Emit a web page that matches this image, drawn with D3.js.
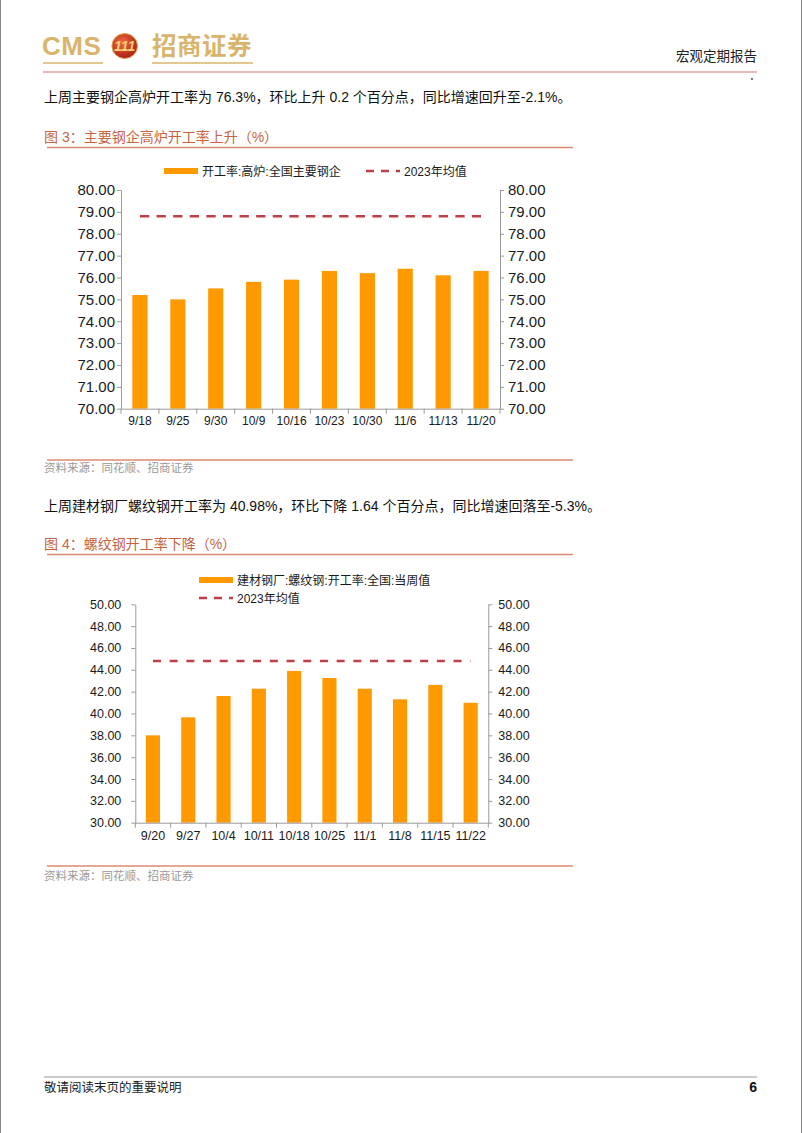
<!DOCTYPE html>
<html><head><meta charset="utf-8">
<script src="https://cdn.jsdelivr.net/npm/d3@7/dist/d3.min.js"></script>
<style>html,body{margin:0;padding:0;background:#fff;} svg{display:block;}</style>
</head><body><svg id="page" width="802" height="1133"></svg>
<script>
// ---------- data ----------
const dates1 = ["9/18","9/25","9/30","10/9","10/16","10/23","10/30","11/6","11/13","11/20"];
const rate1 = [75.2, 75.0, 75.5, 75.8, 75.9, 76.3, 76.2, 76.4, 76.1, 76.3];
const avg1 = 78.8;
const ticks1 = [70, 71, 72, 73, 74, 75, 76, 77, 78, 79, 80];
const series1 = "开工率:高炉:全国主要钢企";

const dates2 = ["9/20","9/27","10/4","10/11","10/18","10/25","11/1","11/8","11/15","11/22"];
const rate2 = [38.0, 39.65, 41.6, 42.27, 43.9, 43.25, 42.27, 41.3, 42.62, 40.98];
const avg2 = 44.8;
const ticks2 = [30, 32, 34, 36, 38, 40, 42, 44, 46, 48, 50];
const series2 = "建材钢厂:螺纹钢:开工率:全国:当周值";
const avgLabel = "2023年均值";

// ---------- page ----------
const FONT = '"Liberation Sans", Arial, "Noto Sans CJK SC", sans-serif';
const BAR = "#FF9900", AVG = "#BF3F47", TITLE = "#C5643F", RULE = "#DA8A70", AXIS = "#9a9a9a";
const svg = d3.select("#page").style("font-family", FONT);

// page edges
svg.append("line").attr("x1",0.5).attr("x2",0.5).attr("y1",0).attr("y2",1133).attr("stroke","#888").attr("stroke-width",1);
svg.append("line").attr("x1",801.5).attr("x2",801.5).attr("y1",0).attr("y2",1133).attr("stroke","#888").attr("stroke-width",1);

// header logo
const GOLD = "#D9B46C";
svg.append("text").attr("x",42).attr("y",55).attr("font-size",26).attr("font-weight","bold")
  .attr("fill",GOLD).attr("letter-spacing",0.5).text("CMS");
const defs = svg.append("defs");
const rg = defs.append("radialGradient").attr("id","lg").attr("cx","40%").attr("cy","35%").attr("r","70%");
rg.append("stop").attr("offset","0%").attr("stop-color","#F06A3A");
rg.append("stop").attr("offset","100%").attr("stop-color","#A81C16");
svg.append("ellipse").attr("cx",124.7).attr("cy",46).attr("rx",12.8).attr("ry",12.5)
  .attr("fill","url(#lg)").attr("stroke","#E0A850").attr("stroke-width",1);
svg.append("text").attr("x",124.7).attr("y",51).attr("text-anchor","middle").attr("font-size",14)
  .attr("font-weight","bold").attr("font-style","italic").attr("fill","#F6D27A").text("111");
svg.append("text").attr("x",152).attr("y",55).attr("font-size",24.5).attr("font-weight","bold")
  .attr("fill",GOLD).attr("letter-spacing",0.5).text("招商证券");
svg.append("line").attr("x1",43).attr("x2",103).attr("y1",63).attr("y2",63).attr("stroke",GOLD).attr("stroke-width",1.5);
svg.append("line").attr("x1",152).attr("x2",253).attr("y1",63).attr("y2",63).attr("stroke",GOLD).attr("stroke-width",1.5);
svg.append("text").attr("x",757).attr("y",61).attr("text-anchor","end").attr("font-size",13.5).attr("fill","#222").text("宏观定期报告");
svg.append("line").attr("x1",43).attr("x2",757).attr("y1",72).attr("y2",72).attr("stroke","#D9736A").attr("stroke-width",1.2);
svg.append("circle").attr("cx",752).attr("cy",79).attr("r",0.9).attr("fill","#333");

// paragraphs / titles
function para(y, t){ svg.append("text").attr("x",44).attr("y",y).attr("font-size",14).attr("fill","#111").text(t); }
function title(y, t, ruleY){
  svg.append("text").attr("x",44).attr("y",y).attr("font-size",14).attr("fill",TITLE).text(t);
  svg.append("line").attr("x1",47).attr("x2",573).attr("y1",ruleY).attr("y2",ruleY).attr("stroke",RULE).attr("stroke-width",1.5);
}
function source(lineY, y){
  svg.append("line").attr("x1",47).attr("x2",573).attr("y1",lineY).attr("y2",lineY).attr("stroke",RULE).attr("stroke-width",1.5);
  svg.append("text").attr("x",44).attr("y",y).attr("font-size",11.5).attr("fill","#9a9a9a").text("资料来源：同花顺、招商证券");
}

para(102, "上周主要钢企高炉开工率为 76.3%，环比上升 0.2 个百分点，同比增速回升至-2.1%。");
title(142, "图 3：主要钢企高炉开工率上升（%）", 147.5);
source(460, 472);
para(511, "上周建材钢厂螺纹钢开工率为 40.98%，环比下降 1.64 个百分点，同比增速回落至-5.3%。");
title(549, "图 4：螺纹钢开工率下降（%）", 554.5);
source(866, 880);

// footer
svg.append("line").attr("x1",44).attr("x2",757).attr("y1",1077).attr("y2",1077).attr("stroke","#999").attr("stroke-width",1);
svg.append("text").attr("x",44).attr("y",1092).attr("font-size",12.5).attr("fill","#222").text("敬请阅读末页的重要说明");
svg.append("text").attr("x",757).attr("y",1092).attr("text-anchor","end").attr("font-size",14).attr("font-weight","bold").attr("fill","#111").text("6");

// ---------- charts ----------
function drawChart(c){
  const g = svg.append("g");
  const x = d3.scaleBand().domain(c.cats).range([c.x0, c.x1]).padding(0);
  const y = d3.scaleLinear().domain([c.ticks[0], c.ticks[c.ticks.length-1]]).range([c.yb, c.yt]);
  const bw = x.bandwidth();

  g.selectAll("rect.bar").data(c.vals).join("rect").attr("class","bar")
    .attr("x",(d,i)=>x(c.cats[i]) + bw*0.3).attr("width",bw*0.4)
    .attr("y",d=>y(d)).attr("height",d=>y(c.ticks[0]) - y(d)).attr("fill",BAR);

  const fmt = d3.format(".2f");
  const la = g.append("g").attr("transform",`translate(${c.x0},0)`)
    .call(d3.axisLeft(y).tickValues(c.ticks).tickFormat(fmt).tickSize(4).tickSizeOuter(0).tickPadding(c.lpad));
  const ra = g.append("g").attr("transform",`translate(${c.x1},0)`)
    .call(d3.axisRight(y).tickValues(c.ticks).tickFormat(fmt).tickSize(4).tickSizeOuter(0).tickPadding(c.rpad));
  const ba = g.append("g").attr("transform",`translate(0,${c.yb})`)
    .call(d3.axisBottom(x).tickSize(0).tickSizeOuter(0).tickPadding(8));
  [la, ra].forEach(a=>{ a.selectAll("text").attr("font-size",c.yfs).attr("fill","#1a1a1a").attr("font-family",FONT); });
  ba.selectAll("text").attr("font-size",c.xfs).attr("fill","#1a1a1a").attr("font-family",FONT);
  [la, ra, ba].forEach(a=>{ a.select(".domain").attr("stroke",AXIS); a.selectAll(".tick line").attr("stroke",AXIS); });

  const bounds = c.cats.map(d=>x(d)).concat([c.x1]);
  g.selectAll("line.bt").data(bounds).join("line").attr("class","bt")
    .attr("x1",d=>d).attr("x2",d=>d).attr("y1",c.yb).attr("y2",c.yb+5).attr("stroke",AXIS);

  const first = c.cats[0], last = c.cats[c.cats.length-1];
  g.append("line").attr("x1",x(first)+bw/2).attr("x2",x(last)+bw/2)
    .attr("y1",y(c.avg)).attr("y2",y(c.avg)).attr("stroke",AVG).attr("stroke-width",2.5)
    .attr("stroke-dasharray",c.dash);

  // legend
  const L = c.legend;
  g.append("rect").attr("x",L.bx).attr("y",L.by-3).attr("width",L.bw).attr("height",6).attr("fill",BAR);
  g.append("text").attr("x",L.bx+L.bw+4).attr("y",L.by+4.5).attr("font-size",12).attr("fill","#1a1a1a").text(c.series);
  g.append("line").attr("x1",L.dx).attr("x2",L.dx+L.dw).attr("y1",L.dy).attr("y2",L.dy)
    .attr("stroke",AVG).attr("stroke-width",2.5).attr("stroke-dasharray","8,7");
  g.append("text").attr("x",L.dx+L.dw+4).attr("y",L.dy+4.5).attr("font-size",12).attr("fill","#1a1a1a").text(avgLabel);
}

drawChart({cats:dates1, vals:rate1, avg:avg1, ticks:ticks1, series:series1,
  x0:121, x1:500, yb:408.7, yt:190, lpad:2, rpad:4, yfs:15, xfs:12, dash:"9.3,7.3",
  legend:{bx:164, by:171, bw:34, dx:366, dy:171, dw:34}});
drawChart({cats:dates2, vals:rate2, avg:avg2, ticks:ticks2, series:series2,
  x0:135.3, x1:488.3, yb:822.7, yt:604.3, lpad:10, rpad:6, yfs:12.5, xfs:12.5, dash:"8,8.7",
  legend:{bx:199, by:580, bw:34, dx:199, dy:598, dw:34}});
</script></body></html>
